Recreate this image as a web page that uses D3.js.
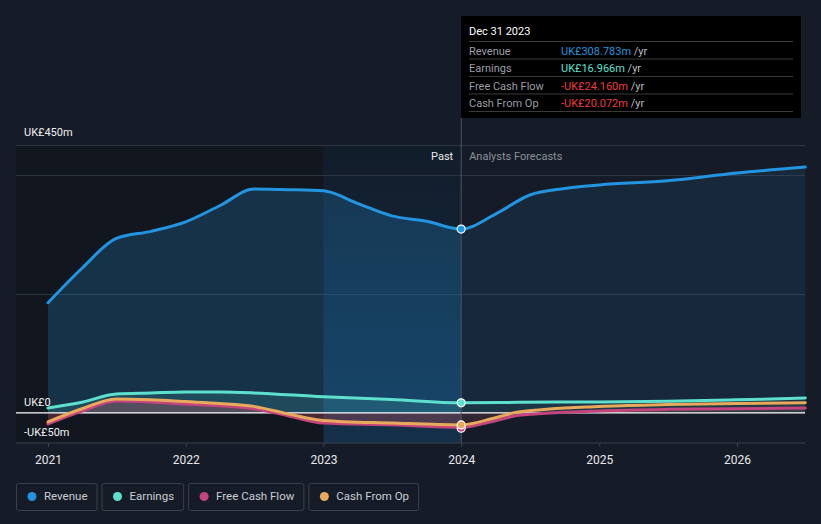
<!DOCTYPE html>
<html>
<head>
<meta charset="utf-8">
<script src="https://cdn.jsdelivr.net/npm/d3@7"></script>
<style>
body { margin: 0; background: #161c27; font-family: Roboto, "Noto Sans", sans-serif; }
svg { display: block; }
</style>
</head>
<body>
<svg id="chart" width="821" height="524"></svg>
<script>
// values (UK£ m)
var revDates = ["2021-01", "2021-04", "2021-07", "2021-10", "2022-01", "2022-04", "2022-07", "2022-10", "2023-01", "2023-04", "2023-07", "2023-10", "2024-01", "2024-04", "2024-07", "2024-10", "2025-01", "2025-07", "2026-01", "2026-07"];
var revenue = [185, 243, 293, 305, 321, 348, 376, 375, 373, 352, 331, 322, 308.783, 334, 366, 377, 383, 390, 403, 413];

var earnDates = ["2021-01", "2021-04", "2021-07", "2021-10", "2022-01", "2022-04", "2022-07", "2023-01", "2023-07", "2024-01", "2024-06", "2025-01", "2025-07", "2026-01", "2026-07"];
var earnings = [8.4, 18, 32, 33.5, 35, 35, 33.6, 27, 22.7, 16.966, 17.8, 18.5, 19.5, 22, 25];

var cashDates = ["2021-01", "2021-04", "2021-07", "2021-10", "2022-01", "2022-04", "2022-07", "2022-10", "2023-01", "2023-07", "2024-01", "2024-04", "2024-06", "2025-01", "2025-07", "2026-01", "2026-07"];
var freeCashFlow = [-18.5, 3, 20, 18.5, 15, 12, 7, -5, -17, -20, -24.16, -13, -4, 3.4, 6, 7, 8.4];
var cashFromOp = [-15, 7, 23.5, 22, 19, 16, 11, -2, -12.6, -17, -20.072, -8, 1.5, 11, 14, 16, 17];

var yearTicks = ["2021", "2022", "2023", "2024", "2025", "2026"];
var gridValues = [200, 400, 450];

var tipTitle = "Dec 31 2023";
var tipLabels = ["Revenue", "Earnings", "Free Cash Flow", "Cash From Op"];
var tipValues = ["UK£308.783m", "UK£16.966m", "-UK£24.160m", "-UK£20.072m"];

var colors = { rev: "#2394df", earn: "#5ee0cf", fcf: "#c4447e", cfo: "#e8a95c" };

var parseM = d3.timeParse("%Y-%m");
var parseY = d3.timeParse("%Y");
var svg = d3.select("#chart");
var plotLeft = 16, plotRight = 805, plotTop = 145, plotBottom = 443;

var x = d3.scaleTime().domain([parseY("2021"), parseY("2026")]).range([48, 737]);
var y = d3.scaleLinear().domain([-50.5, 450]).range([plotBottom, plotTop]);
var splitDate = parseM("2024-01");
var hlDate = parseM("2023-01");
var xs = x(splitDate), xh = x(hlDate);

function zip(dates, vals) {
    return dates.map(function(d, i) { return { date: parseM(d), v: vals[i] }; });
}
var revData = zip(revDates, revenue);
var earnData = zip(earnDates, earnings);
var fcfData = zip(cashDates, freeCashFlow);
var cfoData = zip(cashDates, cashFromOp);

var defs = svg.append("defs");
defs.append("clipPath").attr("id", "clipPast").append("rect").attr("x", 0).attr("y", 0).attr("width", xs).attr("height", 524);
defs.append("clipPath").attr("id", "clipFut").append("rect").attr("x", xs).attr("y", 0).attr("width", 821 - xs).attr("height", 524);
var grad = defs.append("linearGradient").attr("id", "hl").attr("x1", 0).attr("y1", 0).attr("x2", 0).attr("y2", 1);
grad.append("stop").attr("offset", "0%").attr("stop-color", "#2196f3").attr("stop-opacity", 0.05);
grad.append("stop").attr("offset", "100%").attr("stop-color", "#2196f3").attr("stop-opacity", 0.2);

// backgrounds
svg.append("rect").attr("x", plotLeft).attr("y", plotTop).attr("width", xs - plotLeft).attr("height", plotBottom - plotTop).attr("fill", "#000").attr("opacity", 0.2);
svg.append("rect").attr("x", xh).attr("y", plotTop).attr("width", xs - xh).attr("height", plotBottom - plotTop).attr("fill", "url(#hl)");

// grid
svg.selectAll(".grid").data(gridValues).enter().append("line")
    .attr("x1", plotLeft).attr("x2", plotRight)
    .attr("y1", function(d) { return Math.round(y(d)) + 0.5; })
    .attr("y2", function(d) { return Math.round(y(d)) + 0.5; })
    .attr("stroke", "#2e3541").attr("stroke-width", 1);

var curve = d3.curveMonotoneX;
var line = d3.line().x(function(d) { return x(d.date); }).y(function(d) { return y(d.v); }).curve(curve);
var area = d3.area().x(function(d) { return x(d.date); }).y0(y(0)).y1(function(d) { return y(d.v); }).curve(curve);

function drawArea(data, color, aPast, aFut) {
    svg.append("path").attr("d", area(data)).attr("fill", color).attr("fill-opacity", aPast).attr("clip-path", "url(#clipPast)");
    svg.append("path").attr("d", area(data)).attr("fill", color).attr("fill-opacity", aFut).attr("clip-path", "url(#clipFut)");
}
drawArea(revData, colors.rev, 0.22, 0.11);
drawArea(earnData, colors.earn, 0.14, 0.07);
drawArea(fcfData, "#d8406a", 0.22, 0.1);
drawArea(cfoData, colors.cfo, 0.08, 0.04);

// zero line
svg.append("line").attr("x1", plotLeft).attr("x2", plotRight).attr("y1", y(0)).attr("y2", y(0)).attr("stroke", "#ffffff").attr("stroke-width", 1.2);

// lines
[[fcfData, colors.fcf], [cfoData, colors.cfo], [earnData, colors.earn], [revData, colors.rev]].forEach(function(s) {
    svg.append("path").attr("d", line(s[0])).attr("fill", "none").attr("stroke", s[1]).attr("stroke-width", 3).attr("stroke-linecap", "round");
});

// bottom axis
var axis = svg.append("g").attr("transform", "translate(0," + plotBottom + ")")
    .call(d3.axisBottom(x).tickValues(yearTicks.map(parseY)).tickFormat(d3.timeFormat("%Y")).tickSize(4).tickPadding(8));
axis.select(".domain").remove();
axis.insert("line", ":first-child").attr("x1", plotLeft).attr("x2", plotRight).attr("stroke", "#3a414d");
axis.selectAll(".tick line").attr("stroke", "#3a414d");
axis.selectAll(".tick text").attr("fill", "#e6e8eb").attr("font-size", 12).attr("font-family", "Roboto, sans-serif");

// y labels
svg.append("text").attr("x", 24).attr("y", y(450) - 9).text("UK£450m").attr("fill", "#f0f0f0").attr("font-size", 11);
svg.append("text").attr("x", 24).attr("y", y(0) - 7).text("UK£0").attr("fill", "#f0f0f0").attr("font-size", 11);
svg.append("text").attr("x", 24).attr("y", y(0) + 23).text("-UK£50m").attr("fill", "#f0f0f0").attr("font-size", 11);

// past / forecast
svg.append("line").attr("x1", xs).attr("x2", xs).attr("y1", 118).attr("y2", plotBottom).attr("stroke", "#4a5566").attr("stroke-width", 1);
svg.append("text").attr("x", xs - 8).attr("y", 160).attr("text-anchor", "end").text("Past").attr("fill", "#e8e8e8").attr("font-size", 11);
svg.append("text").attr("x", xs + 8).attr("y", 160).text("Analysts Forecasts").attr("fill", "#8b9099").attr("font-size", 11);

// markers
[[fcfData, colors.fcf, 0.9], [cfoData, colors.cfo, 0], [earnData, colors.earn, 0], [revData, colors.rev, 0]].forEach(function(s) {
    var p = s[0].filter(function(d) { return +d.date === +splitDate; })[0];
    svg.append("circle").attr("cx", x(p.date)).attr("cy", y(p.v) + s[2]).attr("r", 4).attr("fill", s[1]).attr("stroke", "#ffffff").attr("stroke-width", 1.2);
});

// tooltip
var tip = svg.append("g").attr("transform", "translate(461,16)");
tip.append("rect").attr("width", 340).attr("height", 102).attr("fill", "#000000");
tip.append("text").attr("x", 8).attr("y", 19).text(tipTitle).attr("fill", "#ffffff").attr("font-size", 11);
var tipColors = [colors.rev, colors.earn, "#ee3b3b", "#ee3b3b"];
tipLabels.forEach(function(l, i) {
    var ry = 25.5 + i * 17.5;
    tip.append("line").attr("x1", 8).attr("x2", 332).attr("y1", ry).attr("y2", ry).attr("stroke", "#3a3a3a");
    tip.append("text").attr("x", 8).attr("y", ry + 13).text(l).attr("fill", "#9a9ea5").attr("font-size", 11);
    var t = tip.append("text").attr("x", 100).attr("y", ry + 13).attr("font-size", 11);
    t.append("tspan").text(tipValues[i]).attr("fill", tipColors[i]);
    t.append("tspan").text(" /yr").attr("fill", "#b8bcc2");
});
tip.append("line").attr("x1", 8).attr("x2", 332).attr("y1", 95.5).attr("y2", 95.5).attr("stroke", "#3a3a3a");

// legend
var legendNames = ["Revenue", "Earnings", "Free Cash Flow", "Cash From Op"];
var legendColors = [colors.rev, colors.earn, colors.fcf, colors.cfo];
var lx = 16;
legendNames.forEach(function(n, i) {
    var g = svg.append("g").attr("transform", "translate(" + lx + ",483)");
    var txt = g.append("text").attr("x", 28).attr("y", 17).text(n).attr("fill", "#c9cdd3").attr("font-size", 11.5);
    var w = txt.node().getComputedTextLength() + 28 + 9;
    g.insert("rect", ":first-child").attr("x", 0.5).attr("y", 0.5).attr("width", w).attr("height", 27).attr("rx", 2).attr("fill", "none").attr("stroke", "#3a404b");
    g.append("circle").attr("cx", 16).attr("cy", 13.5).attr("r", 4.5).attr("fill", legendColors[i]);
    lx += w + 5;
});
</script>
</body>
</html>
